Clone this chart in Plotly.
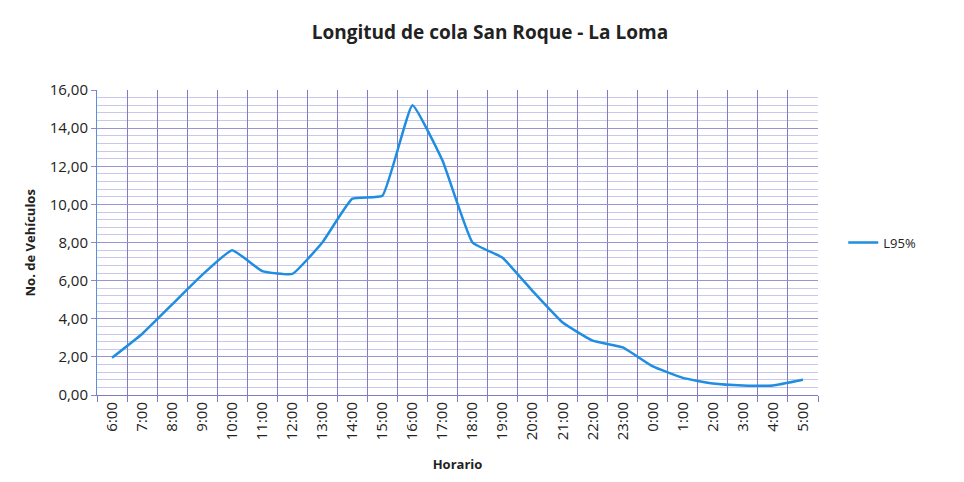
import plotly.graph_objects as go

horario = ["6:00", "7:00", "8:00", "9:00", "10:00", "11:00", "12:00", "13:00",
           "14:00", "15:00", "16:00", "17:00", "18:00", "19:00", "20:00", "21:00",
           "22:00", "23:00", "0:00", "1:00", "2:00", "3:00", "4:00", "5:00"]
l95 = [1.95, 3.2, 4.75, 6.3, 7.6, 6.5, 6.35, 8.0,
       10.3, 10.45, 15.2, 12.3, 8.0, 7.2, 5.45, 3.8,
       2.85, 2.5, 1.5, 0.9, 0.6, 0.5, 0.5, 0.8]

fig = go.Figure()
fig.add_trace(go.Scatter(
    x=horario, y=l95, mode="lines", name="L95%",
    line=dict(color="#1f8de0", width=2.5, shape="spline", smoothing=0.35),
))

font = "Open Sans"
fig.update_layout(
    width=964, height=482,
    paper_bgcolor="white", plot_bgcolor="white",
    margin=dict(l=89, r=154, t=82, b=95),
    separators=",.",
    title=dict(text="<b>Longitud de cola San Roque - La Loma</b>",
               x=0.5, xanchor="center", y=0.95, yanchor="middle",
               font=dict(family=font, size=19, color="#222222")),
    font=dict(family=font, color="#222222"),
    showlegend=True,
    legend=dict(x=1.035, y=0.5, xanchor="left", yanchor="middle",
                font=dict(size=13, color="#222222"), bgcolor="rgba(0,0,0,0)"),
    annotations=[dict(text="<b>No. de Vehículos</b>", textangle=-90,
                      xref="paper", yref="paper", x=-0.093, y=0.5,
                      xanchor="center", yanchor="middle", showarrow=False,
                      font=dict(family=font, size=13, color="#222222"))],
)
fig.update_xaxes(
    type="category", tickson="boundaries", range=[-0.5, len(horario) - 0.5],
    showgrid=True, gridcolor="#7f7cc4", gridwidth=1,
    ticks="outside", ticklen=6, tickcolor="#7f7cc4",
    tickangle=-90, tickfont=dict(size=15, color="#222222"),
    showline=True, linecolor="#7f7cc4", linewidth=1,
    automargin=False,
    title=dict(text="<b>Horario</b>", font=dict(size=13), standoff=20),
)
fig.update_yaxes(
    range=[0, 16], dtick=2, tickformat=".2f",
    showgrid=True, gridcolor="#9a94d4", gridwidth=1,
    minor=dict(dtick=0.4, showgrid=True, gridcolor="#cbc6ec", gridwidth=1),
    ticks="outside", ticklen=5, tickcolor="#8a86cc",
    tickfont=dict(size=15, color="#222222"),
    showline=True, linecolor="#5a8fd8", linewidth=1,
    zeroline=False, automargin=False,
)

fig.write_html("out.html")
